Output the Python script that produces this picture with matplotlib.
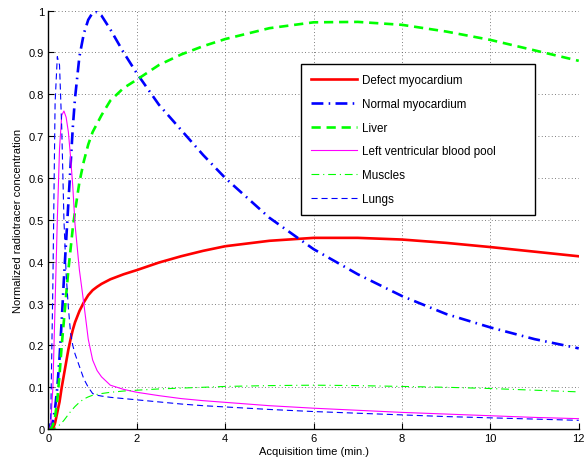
import matplotlib
matplotlib.use("Agg")
import matplotlib.pyplot as plt

plt.rcParams["font.family"] = ["Liberation Sans", "DejaVu Sans"]
plt.rcParams["font.size"] = 8

# acquisition time (min.)
t_min = [0, 0.05, 0.1, 0.15, 0.2, 0.25, 0.3, 0.35, 0.4, 0.45, 0.5, 0.55, 0.6,
         0.7, 0.8, 0.9, 1.0, 1.1, 1.2, 1.4, 1.7, 2, 2.5, 3, 3.5, 4, 5, 6, 7,
         8, 9, 10, 11, 12]

defect_myo = [0, 0, 0, 0.015, 0.04, 0.065, 0.1, 0.13, 0.16, 0.19, 0.215,
              0.237, 0.255, 0.282, 0.303, 0.32, 0.332, 0.34, 0.347, 0.358,
              0.37, 0.38, 0.398, 0.413, 0.426, 0.437, 0.45, 0.457, 0.457,
              0.453, 0.445, 0.435, 0.424, 0.413]
normal_myo = [0, 0, 0.02, 0.05, 0.1, 0.17, 0.26, 0.36, 0.45, 0.54, 0.63, 0.72,
              0.79, 0.89, 0.945, 0.978, 0.995, 0.997, 0.988, 0.955, 0.9, 0.85,
              0.775, 0.715, 0.655, 0.6, 0.505, 0.43, 0.37, 0.318, 0.275,
              0.243, 0.215, 0.193]
liver = [0, 0, 0.01, 0.03, 0.07, 0.13, 0.2, 0.26, 0.32, 0.38, 0.43, 0.48, 0.52,
         0.59, 0.64, 0.68, 0.71, 0.73, 0.75, 0.785, 0.815, 0.835, 0.87, 0.895,
         0.915, 0.932, 0.958, 0.972, 0.973, 0.966, 0.95, 0.93, 0.905, 0.88]
lv_pool = [0, 0.01, 0.1, 0.3, 0.5, 0.67, 0.75, 0.76, 0.745, 0.71, 0.65, 0.58,
           0.49, 0.38, 0.3, 0.215, 0.165, 0.14, 0.125, 0.105, 0.095, 0.088,
           0.08, 0.073, 0.068, 0.064, 0.056, 0.05, 0.045, 0.04, 0.036, 0.032,
           0.028, 0.025]
muscles = [0, 0, 0, 0.002, 0.005, 0.01, 0.015, 0.021, 0.028, 0.035, 0.042,
           0.048, 0.054, 0.064, 0.072, 0.077, 0.081, 0.083, 0.085, 0.088,
           0.091, 0.093, 0.096, 0.098, 0.1, 0.102, 0.104, 0.105, 0.104, 0.102,
           0.1, 0.097, 0.093, 0.089]
lungs = [0, 0.02, 0.35, 0.78, 0.89, 0.87, 0.72, 0.5, 0.37, 0.29, 0.23, 0.2,
         0.18, 0.15, 0.12, 0.1, 0.085, 0.081, 0.079, 0.076, 0.073, 0.07,
         0.065, 0.06, 0.056, 0.053, 0.047, 0.042, 0.038, 0.034, 0.03, 0.027,
         0.024, 0.021]

fig = plt.figure(figsize=(5.84, 4.64), dpi=100)
ax = fig.add_axes([0.083, 0.073, 0.908, 0.902])

ax.plot(t_min, defect_myo, color="red", lw=1.9, label="Defect myocardium")
ax.plot(t_min, normal_myo, color="blue", lw=1.9, dashes=(4.5, 2, 0.6, 2),
        label="Normal myocardium")
ax.plot(t_min, liver, color="#00ff00", lw=1.9, dashes=(3.5, 2.2),
        label="Liver")
ax.plot(t_min, lv_pool, color="magenta", lw=0.8,
        label="Left ventricular blood pool")
ax.plot(t_min, muscles, color="#00ff00", lw=0.8, dashes=(7, 3.5, 1, 3.5),
        label="Muscles")
ax.plot(t_min, lungs, color="blue", lw=0.8, dashes=(5.5, 3.5),
        label="Lungs")

ax.set_xlim(0, 12)
ax.set_ylim(0, 1)
ax.set_xticks(range(0, 13, 2))
ax.set_yticks([i / 10 for i in range(11)])
ax.set_yticklabels(["0", "0.1", "0.2", "0.3", "0.4", "0.5", "0.6", "0.7",
                    "0.8", "0.9", "1"])
ax.grid(True, color="#555555", linestyle=(0, (1, 3)), linewidth=0.6)
ax.tick_params(direction="in", length=4, width=0.8, colors="black",
               labelsize=8, pad=3)
for side in ["top", "right"]:
    ax.spines[side].set_visible(False)
for side in ["left", "bottom"]:
    ax.spines[side].set_linewidth(1.0)

ax.set_xlabel("Acquisition time (min.)", fontsize=8, labelpad=2)
ax.set_ylabel("Normalized radiotracer concentration", fontsize=8, labelpad=4)

leg = ax.legend(loc="upper left", bbox_to_anchor=(0.476, 0.5, 0.441, 0.373),
                mode="expand", fancybox=False, framealpha=1,
                edgecolor="black", handlelength=3.9, handletextpad=0.4,
                labelspacing=1.0, borderpad=0.9, borderaxespad=0,
                fontsize=8.4)
leg.get_frame().set_linewidth(1.0)

fig.savefig("out.png", dpi=100)
